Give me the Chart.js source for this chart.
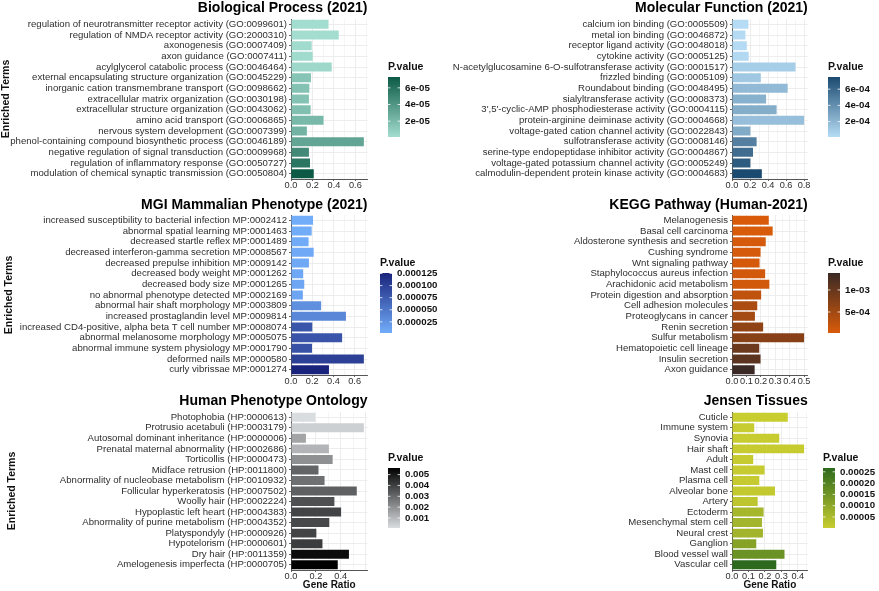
<!DOCTYPE html>
<html>
<head>
<meta charset="utf-8">
<script src="https://cdn.jsdelivr.net/npm/chart.js@4.4.1/dist/chart.umd.min.js"></script>
<style>
  html, body { margin: 0; padding: 0; background: #fff; }
  #wrap { position: relative; width: 879px; height: 591px; overflow: hidden; }
  #wrap canvas { position: absolute; }
</style>
</head>
<body>
<div id="wrap"></div>
<script>
// ---- data ----
const bpTerms = [
  'regulation of neurotransmitter receptor activity (GO:0099601)',
  'regulation of NMDA receptor activity (GO:2000310)',
  'axonogenesis (GO:0007409)',
  'axon guidance (GO:0007411)',
  'acylglycerol catabolic process (GO:0046464)',
  'external encapsulating structure organization (GO:0045229)',
  'inorganic cation transmembrane transport (GO:0098662)',
  'extracellular matrix organization (GO:0030198)',
  'extracellular structure organization (GO:0043062)',
  'amino acid transport (GO:0006865)',
  'nervous system development (GO:0007399)',
  'phenol-containing compound biosynthetic process (GO:0046189)',
  'negative regulation of signal transduction (GO:0009968)',
  'regulation of inflammatory response (GO:0050727)',
  'modulation of chemical synaptic transmission (GO:0050804)'
];
const bpRatio = [0.350, 0.445, 0.193, 0.202, 0.379, 0.186, 0.171, 0.167, 0.183, 0.303, 0.148, 0.679, 0.167, 0.177, 0.212];
const bpPval = [1.0e-6, 1.2e-6, 2.0e-6, 2.2e-6, 4.0e-6, 1.5e-5, 1.6e-5, 1.6e-5, 1.7e-5, 2.1e-5, 2.4e-5, 3.2e-5, 4.7e-5, 5.8e-5, 7.3e-5];
const bpLegendTicks = [2e-5, 4e-5, 6e-5];
const bpLegendLabels = ['2e-05', '4e-05', '6e-05'];

const mfTerms = [
  'calcium ion binding (GO:0005509)',
  'metal ion binding (GO:0046872)',
  'receptor ligand activity (GO:0048018)',
  'cytokine activity (GO:0005125)',
  'N-acetylglucosamine 6-O-sulfotransferase activity (GO:0001517)',
  'frizzled binding (GO:0005109)',
  'Roundabout binding (GO:0048495)',
  'sialyltransferase activity (GO:0008373)',
  "3',5'-cyclic-AMP phosphodiesterase activity (GO:0004115)",
  'protein-arginine deiminase activity (GO:0004668)',
  'voltage-gated cation channel activity (GO:0022843)',
  'sulfotransferase activity (GO:0008146)',
  'serine-type endopeptidase inhibitor activity (GO:0004867)',
  'voltage-gated potassium channel activity (GO:0005249)',
  'calmodulin-dependent protein kinase activity (GO:0004683)'
];
const mfRatio = [0.182, 0.149, 0.164, 0.185, 0.705, 0.320, 0.618, 0.378, 0.495, 0.800, 0.204, 0.273, 0.233, 0.204, 0.331];
const mfPval = [1.0e-5, 1.5e-5, 1.8e-5, 2.5e-5, 8.0e-5, 1.1e-4, 1.8e-4, 2.3e-4, 2.5e-4, 1.6e-4, 2.6e-4, 4.8e-4, 5.8e-4, 6.6e-4, 7.5e-4];
const mfLegendTicks = [2e-4, 4e-4, 6e-4];
const mfLegendLabels = ['2e-04', '4e-04', '6e-04'];

const mgiTerms = [
  'increased susceptibility to bacterial infection MP:0002412',
  'abnormal spatial learning MP:0001463',
  'decreased startle reflex MP:0001489',
  'decreased interferon-gamma secretion MP:0008567',
  'decreased prepulse inhibition MP:0009142',
  'decreased body weight MP:0001262',
  'decreased body size MP:0001265',
  'no abnormal phenotype detected MP:0002169',
  'abnormal hair shaft morphology MP:0003809',
  'increased prostaglandin level MP:0009814',
  'increased CD4-positive, alpha beta T cell number MP:0008074',
  'abnormal melanosome morphology MP:0005075',
  'abnormal immune system physiology MP:0001790',
  'deformed nails MP:0000580',
  'curly vibrissae MP:0001274'
];
const mgiRatio = [0.208, 0.195, 0.166, 0.214, 0.169, 0.115, 0.125, 0.112, 0.284, 0.518, 0.201, 0.482, 0.198, 0.687, 0.358];
const mgiPval = [2e-6, 3e-6, 4e-6, 5e-6, 6e-6, 7e-6, 8e-6, 9e-6, 2.8e-5, 3.6e-5, 8.0e-5, 8.2e-5, 8.5e-5, 1.0e-4, 1.26e-4];
const mgiLegendTicks = [2.5e-5, 5e-5, 7.5e-5, 1e-4, 1.25e-4];
const mgiLegendLabels = ['0.000025', '0.000050', '0.000075', '0.000100', '0.000125'];

const keggTerms = [
  'Melanogenesis',
  'Basal cell carcinoma',
  'Aldosterone synthesis and secretion',
  'Cushing syndrome',
  'Wnt signaling pathway',
  'Staphylococcus aureus infection',
  'Arachidonic acid metabolism',
  'Protein digestion and absorption',
  'Cell adhesion molecules',
  'Proteoglycans in cancer',
  'Renin secretion',
  'Sulfur metabolism',
  'Hematopoietic cell lineage',
  'Insulin secretion',
  'Axon guidance'
];
const keggRatio = [0.255, 0.282, 0.234, 0.198, 0.191, 0.230, 0.259, 0.202, 0.175, 0.159, 0.216, 0.500, 0.189, 0.198, 0.157];
const keggPval = [2.3e-5, 3e-5, 5e-5, 6e-5, 7e-5, 8e-5, 9e-5, 2.5e-4, 4.2e-4, 4.8e-4, 6.5e-4, 7.2e-4, 9.5e-4, 1.1e-3, 1.385e-3];
const keggLegendTicks = [5e-4, 1e-3];
const keggLegendLabels = ['5e-04', '1e-03'];

const hpoTerms = [
  'Photophobia (HP:0000613)',
  'Protrusio acetabuli (HP:0003179)',
  'Autosomal dominant inheritance (HP:0000006)',
  'Prenatal maternal abnormality (HP:0002686)',
  'Torticollis (HP:0000473)',
  'Midface retrusion (HP:0011800)',
  'Abnormality of nucleobase metabolism (HP:0010932)',
  'Follicular hyperkeratosis (HP:0007502)',
  'Woolly hair (HP:0002224)',
  'Hypoplastic left heart (HP:0004383)',
  'Abnormality of purine metabolism (HP:0004352)',
  'Platyspondyly (HP:0000926)',
  'Hypotelorism (HP:0000601)',
  'Dry hair (HP:0011359)',
  'Amelogenesis imperfecta (HP:0000705)'
];
const hpoRatio = [0.196, 0.586, 0.120, 0.305, 0.335, 0.221, 0.270, 0.529, 0.349, 0.403, 0.308, 0.204, 0.253, 0.466, 0.376];
const hpoPval = [7.5e-5, 4e-4, 1.5e-3, 1.1e-3, 2.0e-3, 3.1e-3, 2.8e-3, 3.2e-3, 3.6e-3, 3.9e-3, 3.8e-3, 3.9e-3, 4.1e-3, 5.3e-3, 5.61e-3];
const hpoLegendTicks = [0.001, 0.002, 0.003, 0.004, 0.005];
const hpoLegendLabels = ['0.001', '0.002', '0.003', '0.004', '0.005'];

const jenTerms = [
  'Cuticle', 'Immune system', 'Synovia', 'Hair shaft', 'Adult', 'Mast cell', 'Plasma cell',
  'Alveolar bone', 'Artery', 'Ectoderm', 'Mesenchymal stem cell', 'Neural crest', 'Ganglion',
  'Blood vessel wall', 'Vascular cell'
];
const jenRatio = [0.339, 0.135, 0.287, 0.438, 0.129, 0.198, 0.166, 0.261, 0.156, 0.192, 0.182, 0.188, 0.147, 0.319, 0.269];
const jenPval = [1e-6, 2e-6, 3e-6, 4e-6, 5e-6, 6e-6, 8e-6, 1e-5, 2e-5, 6e-5, 6.5e-5, 6.8e-5, 1.15e-4, 1.6e-4, 2.67e-4];
const jenLegendTicks = [5e-5, 1e-4, 1.5e-4, 2e-4, 2.5e-4];
const jenLegendLabels = ['0.00005', '0.00010', '0.00015', '0.00020', '0.00025'];

// ---- layout ----
const FONT = '"Liberation Sans", Arial, sans-serif';
Chart.defaults.font.family = FONT;

const rows = [
  { top: 0,   height: 190, plotTop: 19, plotBottom: 179, titleMid: 7,  legTop: 77 },
  { top: 190, height: 195, plotTop: 25, plotBottom: 185, titleMid: 14, legTop: 83 },
  { top: 385, height: 206, plotTop: 27, plotBottom: 185, titleMid: 15, legTop: 83 }
];
const cols = [
  { left: 0,   width: 440, plotLeft: 291, plotRight: 367.5 },
  { left: 440, width: 439, plotLeft: 292, plotRight: 367.7 }
];

const panels = [
  { row: 0, col: 0, title: 'Biological Process (2021)', terms: bpTerms, ratio: bpRatio, pval: bpPval,
    low: '#a3ddd0', high: '#0c5a46', major: 0.2, ticks: bpLegendTicks, tickLabels: bpLegendLabels, legX: 388, yTitleX: 6 },
  { row: 0, col: 1, title: 'Molecular Function (2021)', terms: mfTerms, ratio: mfRatio, pval: mfPval,
    low: '#b6dcf5', high: '#1b4a70', major: 0.2, ticks: mfLegendTicks, tickLabels: mfLegendLabels, legX: 388 },
  { row: 1, col: 0, title: 'MGI Mammalian Phenotype (2021)', terms: mgiTerms, ratio: mgiRatio, pval: mgiPval,
    low: '#72adfa', high: '#19237c', major: 0.2, ticks: mgiLegendTicks, tickLabels: mgiLegendLabels, legX: 380, yTitleX: 9 },
  { row: 1, col: 1, title: 'KEGG Pathway (Human-2021)', terms: keggTerms, ratio: keggRatio, pval: keggPval,
    low: '#d95b0a', high: '#3a2924', major: 0.1, ticks: keggLegendTicks, tickLabels: keggLegendLabels, legX: 388 },
  { row: 2, col: 0, title: 'Human Phenotype Ontology', terms: hpoTerms, ratio: hpoRatio, pval: hpoPval,
    low: '#dadde0', high: '#000000', major: 0.2, ticks: hpoLegendTicks, tickLabels: hpoLegendLabels, legX: 388, yTitleX: 12, xTitle: true },
  { row: 2, col: 1, title: 'Jensen Tissues', terms: jenTerms, ratio: jenRatio, pval: jenPval,
    low: '#c8cd30', high: '#2d6a1e', major: 0.1, ticks: jenLegendTicks, tickLabels: jenLegendLabels, legX: 383, xTitle: true }
];

function rgb(h) {
  return [parseInt(h.slice(1, 3), 16), parseInt(h.slice(3, 5), 16), parseInt(h.slice(5, 7), 16)];
}
function mix(low, high, t) {
  const a = rgb(low), b = rgb(high);
  return 'rgb(' + a.map((c, i) => Math.round(c + (b[i] - c) * t)).join(',') + ')';
}

// colour bar legend + rotated y title, drawn in the chart's own canvas
function extras(p, r) {
  return {
    id: 'extras',
    afterDraw(chart) {
      const c = chart.ctx;
      const lo = Math.min(...p.pval), hi = Math.max(...p.pval);
      const x = p.legX, top = r.legTop, w = 12, h = 60;
      c.save();
      c.textBaseline = 'middle';
      c.textAlign = 'left';
      c.fillStyle = '#111';
      c.font = 'bold 10.5px ' + FONT;
      c.fillText('P.value', x, top - 10);
      const g = c.createLinearGradient(0, top + h, 0, top);
      g.addColorStop(0, p.low);
      g.addColorStop(1, p.high);
      c.fillStyle = g;
      c.fillRect(x, top, w, h);
      c.strokeStyle = '#fff';
      c.lineWidth = 0.8;
      c.fillStyle = '#111';
      c.font = 'bold 9.7px ' + FONT;
      p.ticks.forEach((v, i) => {
        const y = top + h - (v - lo) / (hi - lo) * h;
        c.beginPath();
        c.moveTo(x, y); c.lineTo(x + 2.4, y);
        c.moveTo(x + w - 2.4, y); c.lineTo(x + w, y);
        c.stroke();
        c.fillText(p.tickLabels[i], x + w + 5, y);
      });
      if (p.yTitleX !== undefined) {
        const ca = chart.chartArea;
        c.translate(p.yTitleX, (ca.top + ca.bottom) / 2);
        c.rotate(-Math.PI / 2);
        c.textAlign = 'center';
        c.fillStyle = '#111';
        c.font = 'bold 10.5px ' + FONT;
        c.fillText('Enriched Terms', 0, 0);
      }
      c.restore();
    }
  };
}

const wrap = document.getElementById('wrap');

panels.forEach(p => {
  const r = rows[p.row], col = cols[p.col];
  const canvas = document.createElement('canvas');
  canvas.width = col.width;
  canvas.height = r.height;
  canvas.style.left = col.left + 'px';
  canvas.style.top = r.top + 'px';
  canvas.style.width = col.width + 'px';
  canvas.style.height = r.height + 'px';
  wrap.appendChild(canvas);

  const lo = Math.min(...p.pval), hi = Math.max(...p.pval);
  const colors = p.pval.map(v => mix(p.low, p.high, (v - lo) / (hi - lo)));
  const dataMax = Math.max(...p.ratio);
  const minor = p.major / 2;
  const isMajor = v => Math.round(v / minor) % 2 === 0 && v <= dataMax + 1e-9;

  new Chart(canvas.getContext('2d'), {
    type: 'bar',
    data: {
      labels: p.terms,
      datasets: [{
        data: p.ratio,
        backgroundColor: colors,
        borderWidth: 0,
        barPercentage: 0.85,
        categoryPercentage: 1
      }]
    },
    options: {
      indexAxis: 'y',
      responsive: false,
      animation: false,
      devicePixelRatio: 1,
      layout: { padding: { left: 0, right: col.width - col.plotRight, top: 0, bottom: 0 } },
      plugins: {
        legend: { display: false },
        tooltip: { enabled: false },
        title: {
          display: true,
          text: p.title,
          align: 'end',
          color: '#000',
          font: { size: 14, weight: 'bold', lineHeight: 1 },
          padding: { top: Math.max(0, r.titleMid - 6), bottom: r.plotTop - Math.max(0, r.titleMid - 6) - 14 }
        }
      },
      scales: {
        x: {
          min: 0,
          max: dataMax * 1.05,
          ticks: {
            stepSize: minor,
            includeBounds: false,
            autoSkip: false,
            maxRotation: 0,
            padding: -1,
            color: '#2e2e2e',
            font: { size: 9.2 },
            callback: v => isMajor(v) ? v.toFixed(1) : ''
          },
          grid: {
            color: '#ebebeb',
            lineWidth: ctx => (ctx.tick && Math.round(ctx.tick.value / minor) % 2 === 0) ? 0.9 : 0.5,
            tickLength: 2,
            tickColor: ctx => (ctx.tick && isMajor(ctx.tick.value)) ? '#555' : 'rgba(0,0,0,0)'
          },
          border: { display: true, color: '#555', width: 1 },
          title: {
            display: !!p.xTitle,
            text: 'Gene Ratio',
            color: '#111',
            font: { size: 10, weight: 'bold', lineHeight: 1.2 },
            padding: { top: 0, bottom: 0 }
          },
          afterFit(s) { s.height = r.height - r.plotBottom; }
        },
        y: {
          ticks: {
            autoSkip: false,
            padding: 2,
            color: '#2e2e2e',
            font: { size: 9.6, lineHeight: 1.1 }
          },
          grid: { offset: false, color: '#ebebeb', lineWidth: 0.9, tickLength: 2, tickColor: '#555' },
          border: { display: true, color: '#555', width: 1 },
          afterFit(s) { s.width = col.plotLeft; }
        }
      }
    },
    plugins: [extras(p, r)]
  });
});
</script>
</body>
</html>
